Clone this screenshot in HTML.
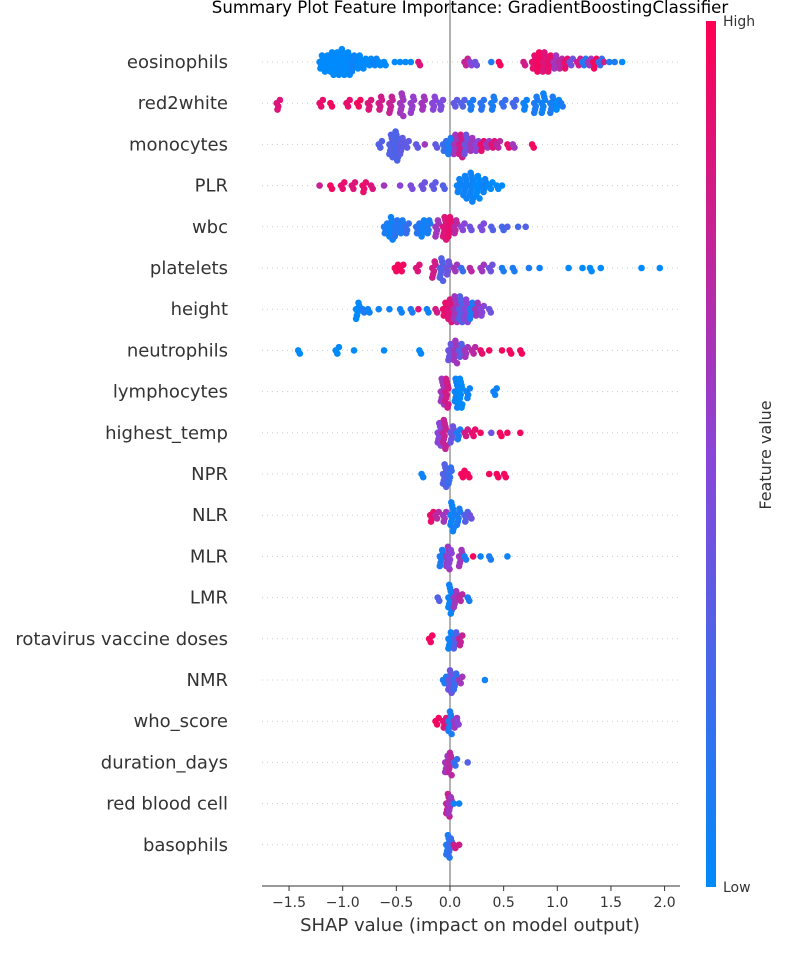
<!DOCTYPE html>
<html><head><meta charset="utf-8"><style>
body{margin:0;background:#fff;}
svg text{font-family:"DejaVu Sans","Liberation Sans",sans-serif;}
</style></head><body>
<svg id="c" width="800" height="950" xmlns="http://www.w3.org/2000/svg">
<defs><linearGradient id="cb" x1="0" y1="1" x2="0" y2="0">
<stop offset="0" stop-color="#008afb"/><stop offset="0.5" stop-color="#8a45d8"/><stop offset="1" stop-color="#ff0052"/></linearGradient></defs>
<text x="470" y="13" font-size="16.6" text-anchor="middle" fill="#000">Summary Plot Feature Importance: GradientBoostingClassifier</text>
<g id="grid"></g>
<line x1="450" y1="0" x2="450" y2="886" stroke="#999" stroke-width="1.5"/>
<g id="dots"></g>
<g id="labels"></g>
<line x1="262" y1="886" x2="680" y2="886" stroke="#333" stroke-width="1"/>
<g id="ticks"></g>
<text x="470" y="931" font-size="18" text-anchor="middle" fill="#333">SHAP value (impact on model output)</text>
<rect x="706" y="21" width="10" height="866" fill="url(#cb)"/>
<text x="723" y="26" font-size="14" fill="#333">High</text>
<text x="723" y="892" font-size="14" fill="#333">Low</text>
<text x="771" y="455" font-size="16" fill="#333" text-anchor="middle" transform="rotate(-90 771 455)">Feature value</text>
</svg>
<script>
const features=["eosinophils","red2white","monocytes","PLR","wbc","platelets","height","neutrophils","lymphocytes","highest_temp","NPR","NLR","MLR","LMR","rotavirus vaccine doses","NMR","who_score","duration_days","red blood cell","basophils"];
const xTicks=[-1.5,-1.0,-0.5,0.0,0.5,1.0,1.5,2.0];
// each entry: [shap value, count, feature value 0..1]
const pts_eosinophils=[[-1.2,5,0],[-1.15,6,0],[-1.1,8,0],[-1.05,8,0],[-1.0,9,0],[-0.95,8,0],[-0.9,6,0.05],[-0.85,5,0],[-0.8,4,0],[-0.75,3,0],[-0.7,3,0.05],[-0.65,2,0],[-0.6,2,0],[-0.5,1,0],[-0.45,1,0],[-0.4,1,0],[-0.35,1,0],[-0.28,2,0.85],[0.15,3,0.75],[0.2,2,0.5],[0.25,2,0.4],[0.4,1,0.1],[0.47,2,0.95],[0.7,2,0.8],[0.78,5,0.9],[0.83,7,0.95],[0.88,7,0.85],[0.93,6,0.9],[0.98,5,0.6],[1.03,4,0.7],[1.08,4,0.9],[1.13,3,0.4],[1.2,3,0.8],[1.25,3,0.1],[1.3,3,0.6],[1.35,4,0.95],[1.4,3,0.2],[1.45,1,0.8],[1.5,1,0.1],[1.55,1,0.1],[1.62,1,0]];
const pts_red2white=[[-1.6,4,0.85],[-1.2,3,0.9],[-1.1,2,0.95],[-0.95,3,0.9],[-0.85,3,0.95],[-0.75,4,0.85],[-0.65,5,0.8],[-0.55,6,0.75],[-0.45,8,0.6],[-0.35,6,0.55],[-0.25,5,0.6],[-0.15,5,0.5],[-0.08,4,0.45],[0.05,3,0.35],[0.12,3,0.3],[0.2,4,0.1],[0.3,4,0.15],[0.4,5,0.1],[0.5,3,0.2],[0.6,3,0.25],[0.7,4,0.05],[0.8,6,0.1],[0.87,7,0.05],[0.95,6,0.1],[1.0,4,0.0],[1.05,2,0.1]];
const pts_monocytes=[[-0.65,3,0.3],[-0.55,8,0.3],[-0.5,10,0.28],[-0.45,6,0.35],[-0.4,3,0.35],[-0.3,2,0.35],[-0.22,1,0.6],[-0.12,2,0.35],[-0.05,4,0.2],[0.0,6,0.1],[0.05,7,0.6],[0.1,8,0.8],[0.15,7,0.4],[0.2,5,0.6],[0.25,4,0.5],[0.3,4,0.9],[0.35,3,0.6],[0.4,3,0.85],[0.45,3,0.7],[0.55,2,0.9],[0.6,2,0.6],[0.78,2,0.95]];
const pts_PLR=[[-1.2,1,0.75],[-1.1,2,0.95],[-1.0,3,0.9],[-0.9,3,0.85],[-0.8,4,0.9],[-0.72,2,0.85],[-0.6,1,0.6],[-0.45,1,0.5],[-0.35,2,0.45],[-0.25,3,0.4],[-0.15,3,0.35],[-0.05,2,0.3],[0.08,5,0.05],[0.14,8,0.05],[0.2,10,0.05],[0.26,8,0.0],[0.32,5,0.05],[0.38,3,0],[0.45,2,0],[0.5,1,0]];
const pts_wbc=[[-0.6,4,0.1],[-0.55,8,0.05],[-0.5,6,0.15],[-0.45,5,0.1],[-0.4,4,0.2],[-0.3,4,0.15],[-0.25,6,0.05],[-0.2,5,0.1],[-0.12,6,0.6],[-0.05,8,0.85],[0.0,7,0.9],[0.05,5,0.7],[0.12,3,0.5],[0.2,2,0.4],[0.3,3,0.45],[0.4,2,0.3],[0.5,2,0.25],[0.55,1,0.3],[0.65,1,0.25],[0.72,1,0.3]];
const pts_platelets=[[-0.5,3,0.95],[-0.45,3,0.95],[-0.3,3,0.85],[-0.15,6,0.8],[-0.08,8,0.3],[-0.02,5,0.4],[0.05,3,0.6],[0.12,2,0.2],[0.2,2,0.7],[0.3,3,0.6],[0.38,3,0.4],[0.5,2,0.1],[0.6,2,0.1],[0.75,1,0.1],[0.85,1,0.05],[1.12,1,0],[1.25,1,0],[1.32,2,0],[1.42,1,0],[1.8,1,0],[1.97,1,0]];
const pts_height=[[-0.86,6,0.0],[-0.8,2,0.1],[-0.75,2,0.05],[-0.65,1,0.05],[-0.55,1,0.05],[-0.45,2,0.05],[-0.35,2,0.1],[-0.28,1,0.85],[-0.2,2,0.05],[-0.12,2,0.8],[-0.05,5,0.9],[0.0,8,0.85],[0.05,9,0.6],[0.1,9,0.3],[0.15,8,0.5],[0.2,6,0.1],[0.25,5,0.6],[0.3,4,0.5],[0.38,2,0.4]];
const pts_neutrophils=[[-1.4,2,0],[-1.05,3,0],[-0.88,1,0],[-0.6,1,0],[-0.27,2,0],[0.0,6,0.4],[0.05,8,0.6],[0.1,5,0.3],[0.15,4,0.6],[0.22,3,0.7],[0.3,2,0.9],[0.38,1,0.95],[0.5,1,0.95],[0.57,2,0.95],[0.67,2,0.95]];
const pts_lymphocytes=[[-0.07,9,0.6],[-0.03,10,0.8],[0.06,10,0.05],[0.1,10,0.0],[0.17,4,0.05],[0.42,3,0.05]];
const pts_highest_temp=[[-0.1,8,0.5],[-0.05,10,0.75],[0.02,6,0.4],[0.08,4,0.1],[0.15,3,0.8],[0.22,3,0.9],[0.3,1,0.95],[0.4,1,0.4],[0.48,2,0.95],[0.55,1,0.95],[0.67,1,0.95]];
const pts_NPR=[[-0.25,2,0.05],[-0.05,8,0.3],[0.0,6,0.2],[0.12,3,0.95],[0.18,2,0.95],[0.38,1,0.95],[0.45,2,0.95],[0.52,2,0.95]];
const pts_NLR=[[-0.17,4,0.9],[-0.12,3,0.7],[-0.05,4,0.6],[0.02,10,0.05],[0.08,6,0.1],[0.15,4,0.3],[0.2,2,0.4]];
const pts_MLR=[[-0.08,6,0.1],[-0.02,8,0.6],[0.0,6,0.5],[0.1,6,0.6],[0.15,2,0.1],[0.23,1,0.95],[0.3,1,0.05],[0.38,2,0.1],[0.55,1,0.05]];
const pts_LMR=[[-0.1,2,0.3],[0.0,10,0.05],[0.05,6,0.6],[0.1,3,0.7],[0.18,2,0.1]];
const pts_rota=[[-0.18,3,0.95],[0.0,6,0.05],[0.05,6,0.3],[0.1,4,0.75]];
const pts_NMR=[[-0.05,3,0.1],[0.0,8,0.4],[0.05,6,0.2],[0.1,3,0.6],[0.34,1,0.05]];
const pts_who=[[-0.12,3,0.95],[-0.05,4,0.85],[0.0,8,0.1],[0.05,4,0.6],[0.08,2,0.5]];
const pts_duration=[[-0.03,6,0.6],[0.0,8,0.7],[0.05,3,0.2],[0.18,1,0.3]];
const pts_rbc=[[-0.02,8,0.75],[0.0,6,0.6],[0.05,1,0.05],[0.1,1,0.05]];
const pts_baso=[[-0.02,8,0.1],[0.0,6,0.2],[0.05,2,0.8],[0.1,1,0.8]];
const rows=[pts_eosinophils,pts_red2white,pts_monocytes,pts_PLR,pts_wbc,pts_platelets,pts_height,pts_neutrophils,pts_lymphocytes,pts_highest_temp,pts_NPR,pts_NLR,pts_MLR,pts_LMR,pts_rota,pts_NMR,pts_who,pts_duration,pts_rbc,pts_baso];

const NS="http://www.w3.org/2000/svg";
const xs=v=>450+v*107.3;
const ys=i=>62+i*41.2;
function mix(a,b,t){return a.map((v,k)=>Math.round(v+(b[k]-v)*t));}
function col(t){const A=[0,138,251],M=[138,69,216],B=[255,0,82];const c=t<0.5?mix(A,M,t*2):mix(M,B,(t-0.5)*2);return `rgb(${c.join(',')})`;}
const grid=document.getElementById('grid'),dots=document.getElementById('dots'),labels=document.getElementById('labels'),ticks=document.getElementById('ticks');
features.forEach((f,i)=>{
  const y=ys(i);
  const l=document.createElementNS(NS,'line');
  l.setAttribute('x1',262);l.setAttribute('x2',680);l.setAttribute('y1',y);l.setAttribute('y2',y);
  l.setAttribute('stroke','#ccc');l.setAttribute('stroke-dasharray','1 4');
  
  
  grid.appendChild(l);
  const t=document.createElementNS(NS,'text');
  t.setAttribute('x',228);t.setAttribute('y',y+6);t.setAttribute('text-anchor','end');t.setAttribute('font-size','18');t.setAttribute('fill','#333');
  t.textContent=f;
  
  
  labels.appendChild(t);
  const g=document.createElementNS(NS,'g');
  
  
  rows[i].forEach(p=>{
    const [v,n,c]=p;
    for(let k=0;k<n;k++){
      const off=(k%2?1:-1)*Math.ceil(k/2)*3.2;
      const dx=((k*7)%5-2)*0.8;
      const d=document.createElementNS(NS,'circle');
      d.setAttribute('cx',(xs(v)+dx).toFixed(1));d.setAttribute('cy',(y+Math.max(-19,Math.min(19,off))).toFixed(1));
      d.setAttribute('r',3.3);d.setAttribute('fill',col(c));
      
      
      g.appendChild(d);
    }
  });
  dots.appendChild(g);
});
xTicks.forEach(v=>{
  const x=xs(v);
  const l=document.createElementNS(NS,'line');
  l.setAttribute('x1',x);l.setAttribute('x2',x);l.setAttribute('y1',886);l.setAttribute('y2',891);l.setAttribute('stroke','#333');
  
  
  ticks.appendChild(l);
  const t=document.createElementNS(NS,'text');
  t.setAttribute('x',x);t.setAttribute('y',907);t.setAttribute('text-anchor','middle');t.setAttribute('font-size','14');t.setAttribute('fill','#333');
  t.textContent=(v<0?'\u2212':'')+Math.abs(v).toFixed(1);
  
  
  ticks.appendChild(t);
});
</script>
</body></html>
